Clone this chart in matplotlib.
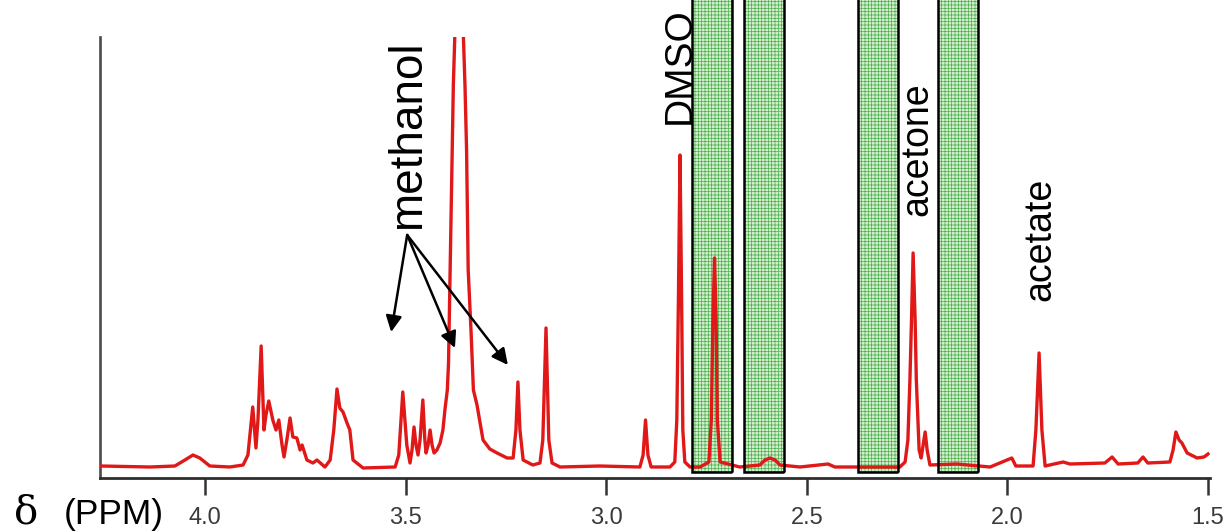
import matplotlib
matplotlib.use("Agg")
import matplotlib.pyplot as plt
from matplotlib.patches import Rectangle

plt.rcParams["hatch.linewidth"] = 0.5

# ---------------- data ----------------
# chemical shift (ppm) and intensity (arbitrary units) of the 1H NMR trace
ppm = [4.259, 4.137, 4.075, 4.050, 4.030, 4.013, 3.988, 3.938, 3.905, 3.893,
       3.881, 3.873, 3.868, 3.860, 3.853, 3.848, 3.841, 3.831, 3.823, 3.816,
       3.808, 3.803, 3.796, 3.788, 3.781, 3.771, 3.763, 3.758, 3.746, 3.731,
       3.721, 3.701, 3.688, 3.679, 3.671, 3.664, 3.656, 3.646, 3.639, 3.631,
       3.606, 3.526, 3.517, 3.507, 3.497, 3.489, 3.484, 3.479, 3.474, 3.469,
       3.464, 3.457, 3.452, 3.449, 3.444, 3.439, 3.434, 3.429, 3.422, 3.414,
       3.407, 3.402, 3.396, 3.393, 3.389, 3.384, 3.381, 3.367, 3.352, 3.348,
       3.344, 3.337, 3.331, 3.322, 3.307, 3.290, 3.272, 3.247, 3.232, 3.225,
       3.220, 3.215, 3.207, 3.183, 3.165, 3.158, 3.150, 3.143, 3.135, 3.115,
       3.016, 2.916, 2.908, 2.902, 2.896, 2.888, 2.841, 2.829, 2.824, 2.820,
       2.816, 2.812, 2.809, 2.804, 2.791, 2.766, 2.744, 2.738, 2.734, 2.730,
       2.726, 2.723, 2.716, 2.667, 2.617, 2.604, 2.592, 2.579, 2.567, 2.517,
       2.447, 2.430, 2.368, 2.268, 2.255, 2.248, 2.243, 2.239, 2.235, 2.230,
       2.227, 2.220, 2.215, 2.210, 2.205, 2.200, 2.193, 2.126, 2.043, 1.989,
       1.979, 1.936, 1.929, 1.921, 1.914, 1.906, 1.861, 1.844, 1.757, 1.739,
       1.724, 1.675, 1.662, 1.650, 1.595, 1.587, 1.580, 1.572, 1.565, 1.552,
       1.527, 1.510, 1.500]
intensity = [1, 0, 1, 7, 12, 9, 1, 0, 2, 12,
             60, 19, 47, 121, 37, 52, 66, 47, 37, 47,
             22, 10, 27, 49, 30, 29, 17, 22, 7, 4,
             7, 0, 7, 37, 78, 59, 55, 44, 37, 7,
             -1, 0, 12, 75, 22, 4, 17, 40, 22, 12,
             27, 67, 27, 14, 22, 37, 22, 14, 17, 24,
             37, 57, 77, 104, 197, 317, 382, 567, 382, 317,
             197, 137, 77, 62, 27, 18, 14, 9, 9, 37,
             85, 37, 7, 2, 4, 27, 139, 27, 4, 0,
             1, 0, 12, 47, 12, 0, 0, 5, 47, 167,
             312, 167, 37, 5, 0, 0, 5, 47, 147, 209,
             147, 47, 5, 0, 2, 7, 9, 7, 2, 0,
             3, 0, 0, 0, 5, 27, 87, 147, 214, 147,
             87, 17, 9, 22, 35, 17, 2, 3, 0, 9,
             1, 1, 37, 114, 37, 1, 5, 3, 4, 10,
             3, 4, 10, 4, 5, 17, 35, 27, 24, 14,
             9, 10, 13]

# shaded (excluded) spectral regions, ppm
box_high_ppm = [2.786, 2.657, 2.372, 2.173]
box_low_ppm = [2.686, 2.557, 2.273, 2.073]

# x tick values / labels
xtick_values = [4.0, 3.5, 3.0, 2.5, 2.0, 1.5]
xtick_labels = ["4.0", "3.5", "3.0", "2.5", "2.0", "1.5"]

# peak assignment labels
label_texts = ["methanol", "DMSO", "acetone", "acetate"]

# ---------------- figure ----------------
W, H = 1226, 532
fig = plt.figure(figsize=(W / 100, H / 100), dpi=100)
fig.patch.set_facecolor("white")

ax_left, ax_right, ax_top, ax_bottom = 100, 1210, 37, 478
ax = fig.add_axes([ax_left / W, (H - ax_bottom) / H,
                   (ax_right - ax_left) / W, (ax_bottom - ax_top) / H])
ax.set_xlim(4.2617, 1.4950)
ax.set_ylim(-11, 430)

# green hatched boxes
for hi, lo in zip(box_high_ppm, box_low_ppm):
    fill = Rectangle((lo, -5), hi - lo, 520, facecolor="#d3edcf",
                     edgecolor="#4caf4c", linewidth=0, hatch="+++++",
                     clip_on=False, zorder=1)
    ax.add_patch(fill)

# spectrum
ax.plot(ppm, intensity, color="#e01818", lw=2.4, zorder=3,
        solid_joinstyle="round")

# box outlines
for hi, lo in zip(box_high_ppm, box_low_ppm):
    edge = Rectangle((lo, -5), hi - lo, 520, facecolor="none",
                     edgecolor="black", linewidth=1.8,
                     clip_on=False, zorder=4)
    ax.add_patch(edge)

# spines / ticks
for s in ["top", "right"]:
    ax.spines[s].set_visible(False)
ax.spines["left"].set_color("#4a4a4a")
ax.spines["left"].set_linewidth(1.9)
ax.spines["bottom"].set_color("#2e2e2e")
ax.spines["bottom"].set_linewidth(2.0)
ax.set_yticks([])
ax.set_xticks(xtick_values)
ax.set_xticklabels(xtick_labels, fontsize=17, color="#3a3a3a",
                   family="Liberation Sans")
ax.tick_params(axis="x", direction="out", length=12, width=1.8,
               color="#333333", pad=9)

sans = "Liberation Sans"

def px(x, y):
    return x / W, 1 - y / H

# rotated labels
fig.text(*px(420, 135), label_texts[0], rotation=90, rotation_mode="anchor",
         ha="center", va="baseline", fontsize=33, family=sans, color="black")
fig.text(*px(690, 66), label_texts[1], rotation=90, rotation_mode="anchor",
         ha="center", va="baseline", fontsize=28, family=sans, color="black")
fig.text(*px(927, 149), label_texts[2], rotation=90, rotation_mode="anchor",
         ha="center", va="baseline", fontsize=27, family=sans, color="black")
fig.text(*px(1050, 239), label_texts[3], rotation=90, rotation_mode="anchor",
         ha="center", va="baseline", fontsize=27, family=sans, color="black")

# methanol arrows (origin under the label, tips at the methanol region)
origin = (3.496, 232)
tips = [(3.536, 135), (3.377, 119), (3.245, 102)]
for t in tips:
    ax.annotate("", xy=t, xytext=origin, xycoords="data",
                arrowprops=dict(arrowstyle="-|>", color="black", lw=1.8,
                                mutation_scale=24, shrinkA=0, shrinkB=0),
                annotation_clip=False, zorder=6)

# axis title
fig.text(*px(14, 523), "δ", fontsize=29, family="DejaVu Serif",
         ha="left", va="baseline", color="black")
fig.text(*px(64, 524), "(PPM)", fontsize=25.5, family=sans,
         ha="left", va="baseline", color="black")

fig.savefig("out.png", dpi=100, facecolor="white")
